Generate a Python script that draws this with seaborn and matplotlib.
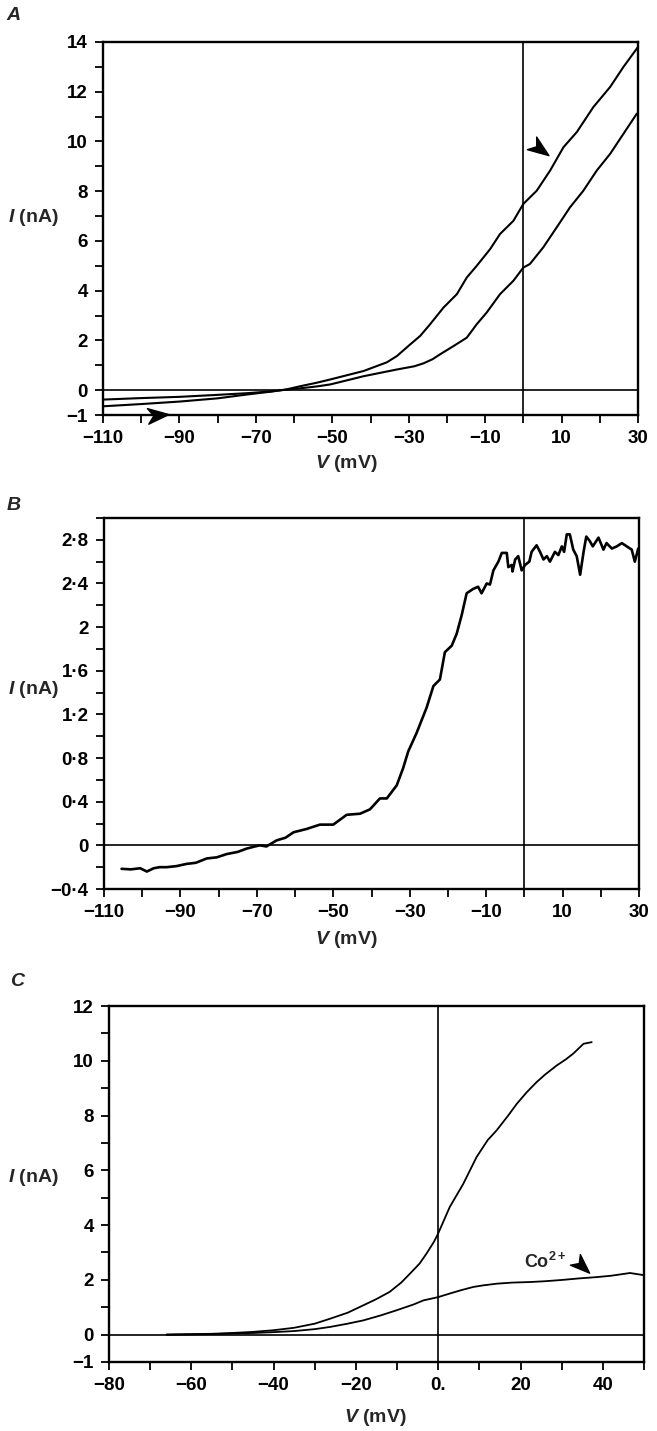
import numpy as np
import pandas as pd
import seaborn as sns
import matplotlib.pyplot as plt
from matplotlib.ticker import MultipleLocator, FixedLocator, FixedFormatter
from matplotlib.path import Path
from matplotlib.markers import MarkerStyle
from matplotlib.transforms import Affine2D

# ---- panel A: two I-V curves (arrowhead marks the upper one)
a_v1 = [-110, -100, -90, -80, -72, -66, -62, -58, -54, -50.5, -41.8, -35.7, -33.1, -29.6, -27.0,
        -24.4, -20.9, -17.4, -14.8, -12.2, -8.7, -6.1, -2.6, 0, 3.5, 7.0, 10.5, 14.0, 18.3,
        22.7, 26.2, 30.0]
a_i1 = [-0.65, -0.56, -0.46, -0.33, -0.17, -0.06, 0.03, 0.17, 0.30, 0.43, 0.77, 1.12, 1.37, 1.84,
        2.18, 2.65, 3.32, 3.86, 4.53, 5.0, 5.67, 6.28, 6.81, 7.49, 8.02, 8.83, 9.77, 10.38,
        11.38, 12.19, 13.0, 13.8]
a_v2 = [-110, -100, -90, -80, -72, -66, -62, -58, -54, -50.5, -41.8, -33.1, -28.5, -26.1, -23.8,
        -21.8, -18.3, -14.8, -12.2, -9.6, -6.1, -2.6, 0, 1.7, 5.2, 8.7, 12.2, 15.7, 19.2, 22.7,
        26.2, 29.7]
a_i2 = [-0.38, -0.32, -0.27, -0.19, -0.12, -0.05, 0.02, 0.08, 0.15, 0.23, 0.56, 0.83, 0.96, 1.08,
        1.24, 1.44, 1.77, 2.11, 2.65, 3.12, 3.86, 4.40, 4.93, 5.07, 5.74, 6.54, 7.35, 8.02, 8.83,
        9.5, 10.31, 11.12]

# ---- panel B: difference current
b_v = [-105.4, -103, -100.5, -98.8, -97, -95.5, -93.6, -91, -88.4, -86, -83.1, -80.5, -77.9,
       -75, -72.7, -70.5, -69.2, -67.5, -64.8, -62.5, -60.4, -57, -53.5, -50, -46.5, -43,
       -40.4, -37.8, -36, -33.4, -31.7, -30.4, -28.2, -27.3, -25.6, -23.8, -22.1, -20.8,
       -19, -17.7, -16.4, -15.1, -13.4, -12.1, -11.2, -9.85, -9, -8.1, -6.8, -5.9, -4.6,
       -4.2, -3.3, -3.1, -2.4, -1.6, -0.7, 0.2, 1.3, 1.9, 3.2, 4.1, 5.0, 5.9, 6.7, 8.0, 8.9,
       9.8, 10.4, 11.1, 11.9, 12.8, 13.7, 14.6, 15.5, 16.2, 17.1, 17.9, 19.4, 20.7, 21.5,
       22.9, 24.2, 25.5, 26.8, 28.1, 28.9, 29.8]
b_i = [-0.215, -0.22, -0.21, -0.24, -0.21, -0.2, -0.2, -0.19, -0.17, -0.16, -0.12, -0.11,
       -0.08, -0.06, -0.03, -0.01, 0.0, -0.01, 0.046, 0.07, 0.12, 0.15, 0.19, 0.19, 0.28,
       0.29, 0.33, 0.43, 0.43, 0.55, 0.71, 0.86, 1.03, 1.11, 1.26, 1.46, 1.52, 1.77, 1.83,
       1.94, 2.11, 2.31, 2.35, 2.37, 2.31, 2.40, 2.39, 2.52, 2.60, 2.68, 2.68, 2.55, 2.57,
       2.51, 2.62, 2.65, 2.52, 2.57, 2.60, 2.69, 2.75, 2.69, 2.62, 2.65, 2.60, 2.69, 2.66,
       2.74, 2.69, 2.85, 2.85, 2.71, 2.65, 2.48, 2.69, 2.83, 2.79, 2.74, 2.82, 2.71, 2.77,
       2.72, 2.74, 2.77, 2.74, 2.71, 2.60, 2.72]

# ---- panel C: control and Co2+
c_v1 = [-66, -55, -50, -45, -40, -35, -30, -26.3, -22, -18.2, -15, -11.8, -9, -6.9, -4.5,
        -2.8, -1, 0, 2.8, 6.1, 9.3, 12, 14.2, 17, 19.1, 21.5, 23.9, 26, 28.8, 31, 32.8,
        35.3, 37.3]
c_i1 = [0.0, 0.03, 0.06, 0.1, 0.16, 0.25, 0.4, 0.58, 0.8, 1.07, 1.3, 1.56, 1.9, 2.22, 2.6,
        2.97, 3.4, 3.7, 4.66, 5.51, 6.48, 7.1, 7.46, 8.0, 8.43, 8.85, 9.22, 9.5, 9.83,
        10.05, 10.26, 10.62, 10.68]
c_v2 = [-66, -55, -50, -45, -40, -35, -30, -26.3, -22, -18.2, -14, -10.1, -6, -3.6, 0, 2.8,
        5.5, 8.5, 11, 14.2, 18, 22.3, 26, 30.4, 34, 38.5, 42, 46.6, 50]
c_i2 = [0.0, 0.02, 0.04, 0.06, 0.09, 0.13, 0.2, 0.28, 0.4, 0.52, 0.7, 0.89, 1.1, 1.25, 1.37,
        1.5, 1.62, 1.74, 1.8, 1.86, 1.9, 1.92, 1.95, 2.0, 2.05, 2.1, 2.15, 2.25, 2.17]

# arrowheads: (x, y, angle in degrees)
a_arrows = [(4.45, 9.68, -36), (-95.6, -1.01, 5)]
c_arrows = [(35.0, 2.49, -43)]

sns.set_theme(style="ticks")
plt.rcParams['font.family'] = ['Liberation Sans', 'DejaVu Sans']
plt.rcParams['font.weight'] = 'bold'
plt.rcParams['mathtext.fontset'] = 'custom'
plt.rcParams['mathtext.it'] = 'Liberation Sans:italic:bold'
plt.rcParams['mathtext.rm'] = 'Liberation Sans:bold'
plt.rcParams['mathtext.bf'] = 'Liberation Sans:bold'

W, H = 657, 1431
fig = plt.figure(figsize=(W / 100, H / 100), dpi=100)

def box(l, t, r, b):
    return [l / W, 1 - b / H, (r - l) / W, (b - t) / H]

def stealth(angle):
    verts = [(1, 0), (-1, 0.75), (-0.45, 0), (-1, -0.75), (1, 0)]
    codes = [Path.MOVETO, Path.LINETO, Path.LINETO, Path.LINETO, Path.CLOSEPOLY]
    return MarkerStyle(Path(verts, codes), transform=Affine2D().rotate_deg(angle))

def style(ax, xlim, ylim, xmaj, xlab, ymaj, ylab, xminor, yminor):
    ax.set_xlim(*xlim)
    ax.set_ylim(*ylim)
    ax.xaxis.set_major_locator(FixedLocator(xmaj))
    ax.xaxis.set_major_formatter(FixedFormatter(xlab))
    ax.xaxis.set_minor_locator(MultipleLocator(xminor))
    ax.yaxis.set_major_locator(FixedLocator(ymaj))
    ax.yaxis.set_major_formatter(FixedFormatter(ylab))
    ax.yaxis.set_minor_locator(MultipleLocator(yminor))
    ax.tick_params(which='both', direction='out', length=6, width=1.3, color='black',
                   labelsize=13.5, pad=5, labelcolor='black')
    for s in ax.spines.values():
        s.set_visible(True)
        s.set_linewidth(1.7)
        s.set_color('black')
    ax.axhline(0, color='black', lw=1.2, zorder=1)
    ax.axvline(0, color='black', lw=1.2, zorder=1)
    ax.set_xlabel('')
    ax.set_ylabel('')

def neg(s):
    return s.replace('-', '\u2212').replace('.', '\u00b7')

# ---------------- A
axA = fig.add_axes(box(103, 42, 638, 415))
sns.lineplot(x=a_v1, y=a_i1, ax=axA, color='black', lw=1.5, sort=False, estimator=None)
sns.lineplot(x=a_v2, y=a_i2, ax=axA, color='black', lw=1.5, sort=False, estimator=None)
xt = list(range(-110, 31, 20))
ya = [-1] + list(range(0, 15, 2))
style(axA, (-110, 30), (-1, 14), xt, [neg(str(v)) for v in xt],
      ya, [neg(str(v)) for v in ya], 10, 1)
for x, y, ang in a_arrows:
    axA.plot([x], [y], marker=stealth(ang), markersize=15, color='black', ls='none',
             clip_on=False, zorder=5)

# ---------------- B
axB = fig.add_axes(box(104, 518, 639, 889))
sns.lineplot(x=b_v, y=b_i, ax=axB, color='black', lw=1.9, sort=False, estimator=None)
yb = [-0.4, 0, 0.4, 0.8, 1.2, 1.6, 2, 2.4, 2.8]
yb_lab = ['-0.4', '0', '0.4', '0.8', '1.2', '1.6', '2', '2.4', '2.8']
style(axB, (-110, 30), (-0.4, 3.0), xt, [neg(str(v)) for v in xt],
      yb, [neg(s) for s in yb_lab], 10, 0.2)

# ---------------- C
axC = fig.add_axes(box(109, 1006, 644, 1362))
sns.lineplot(x=c_v1, y=c_i1, ax=axC, color='black', lw=1.3, sort=False, estimator=None)
sns.lineplot(x=c_v2, y=c_i2, ax=axC, color='black', lw=1.3, sort=False, estimator=None)
xc = [-80, -60, -40, -20, 0, 20, 40]
xc_lab = ['\u221280', '\u221260', '\u221240', '\u221220', '0.', '20', '40']
yc = [-1] + list(range(0, 13, 2))
style(axC, (-80, 50), (-1, 12), xc, xc_lab, yc, [neg(str(v)) for v in yc], 10, 1)
for x, y, ang in c_arrows:
    axC.plot([x], [y], marker=stealth(ang), markersize=14, color='black', ls='none',
             clip_on=False, zorder=5)
axC.text(20.8, 2.64, 'Co$^{2+}$', fontsize=13, fontweight='bold', ha='left', va='center')

# labels
for letter, (px, py) in zip('ABC', [(13, 15), (14, 505), (17, 982)]):
    fig.text(px / W, 1 - py / H, letter, fontsize=14, fontstyle='italic', fontweight='bold',
             ha='center', va='center')
for py in [218, 690, 1178]:
    fig.text(8 / W, 1 - py / H, '$I$ (nA)', fontsize=14, fontweight='bold', ha='left',
             va='center')
for px, py in [(346, 463), (346, 940), (375, 1418)]:
    fig.text(px / W, 1 - py / H, '$V$ (mV)', fontsize=14, fontweight='bold', ha='center',
             va='center')

fig.savefig('out.png', dpi=100, facecolor='white')
